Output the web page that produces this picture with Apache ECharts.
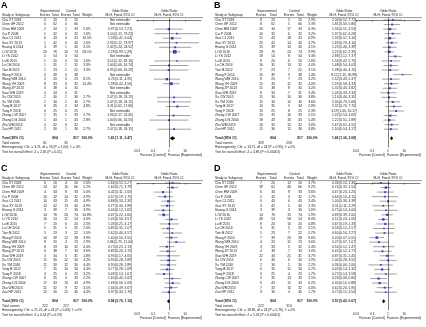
<!DOCTYPE html>
<html>
<head>
<meta charset="utf-8">
<script src="https://cdn.jsdelivr.net/npm/echarts@6/dist/echarts.min.js"></script>
<style>
  html, body { margin: 0; background: #fff; }
  #chart { width: 426px; height: 327px; }
</style>
</head>
<body>
<div id="chart"></div>
<script>
const studies = ['Cha XT 2018', 'Chen GF 2012', 'Chen HM 2009', 'Cui P 2008', 'Guo CJ 2011', 'Guo XY 2013',
  'Huang G 2014', 'Li W 2016', 'Li YS 2012', 'Lu B 2015', 'Lu CH 2014', 'Tian B 2012', 'Wang F 2014',
  'Wang WM 2010', 'Wang YH 2009', 'Wang ZP 2013', 'Xiao WH 2019', 'Xu CW 2015', 'Xu YM 2016',
  'Yang B 2017', 'Yang F 2018', 'Zhang CW 2007', 'Zhang DG 2004', 'Zhu WM 2013', 'Zou HP 2012']
const expTotals = [20, 62, 34, 32, 43, 42, 39, 76, 54, 20, 31, 23, 39, 20, 33, 38, 34, 30, 30, 35, 25, 35, 43, 32, 30]
const ctlTotals = [20, 66, 33, 32, 43, 40, 30, 74, 54, 20, 31, 22, 38, 23, 32, 34, 31, 30, 30, 34, 25, 33, 43, 32, 30]
const axisTicks = [0.01, 0.1, 1, 10, 100]

// A
const aExpEvents = [0, 0, 2, 1, 6, 1, 3, 20, 0, 1, 1, 1, 0, 2, 8, 0, 0, 2, 2, 6, 0, 2, 1, 0, 2]
const aCtlEvents = [0, 0, 2, 0, 4, 0, 1, 10, 0, 0, 1, 1, 0, 3, 6, 0, 0, 1, 1, 2, 0, 1, 1, 0, 1]
const aWeight = [null, null, 5.6, 1.6, 10.5, 1.6, 3.5, 28.1, null, 1.6, 3.3, 3.3, null, 8.1, 14.4, null, null, 2.7, 2.7, 4.8, null, 2.7, 2.8, null, 2.7]
const aOR = [null, null, 0.97, 3.10, 1.58, 2.93, 2.42, 2.29, null, 3.15, 1.00, 0.95, null, 0.74, 1.39, null, null, 2.07, 2.07, 3.31, null, 1.94, 1.00, null, 2.07]
const aLow = [null, null, 0.13, 0.12, 0.41, 0.12, 0.24, 0.99, null, 0.12, 0.06, 0.06, null, 0.11, 0.42, null, null, 0.18, 0.18, 0.62, null, 0.17, 0.06, null, 0.18]
const aHigh = [null, null, 7.21, 79.23, 6.04, 73.97, 24.52, 5.29, null, 82.16, 16.74, 16.29, null, 4.95, 4.56, null, null, 24.15, 24.15, 17.66, null, 22.45, 16.53, null, 24.15]
const aTotal = [1.65, 1.11, 2.47]
const aFooter = ['61', '35', 'Heterogeneity: Chi\u00b2 = 3.71, df = 16 (P = 1.00); I\u00b2 = 0%', 'Test for overall effect: Z = 2.46 (P = 0.01)']

// B
const bExpEvents = [8, 8, 20, 10, 21, 20, 15, 28, 18, 8, 16, 9, 16, 8, 15, 11, 8, 11, 15, 10, 15, 20, 18, 16, 15]
const bCtlEvents = [5, 5, 17, 6, 18, 14, 10, 24, 8, 6, 13, 7, 3, 7, 11, 8, 7, 10, 10, 5, 8, 16, 16, 12, 12]
const bWeight = [2.9, 3.3, 6.3, 3.2, 6.9, 4.7, 4.1, 9.9, 3.3, 2.6, 4.0, 3.1, 1.4, 3.2, 4.0, 3.2, 3.4, 3.8, 3.6, 2.8, 2.3, 5.1, 5.4, 3.6, 3.8]
const bOR = [2.00, 1.81, 1.34, 1.97, 1.33, 1.69, 1.25, 1.22, 2.88, 1.56, 1.48, 1.38, 8.12, 1.52, 1.59, 1.32, 1.05, 1.16, 2.00, 2.32, 3.19, 1.42, 1.22, 1.67, 1.50]
const bLow = [0.52, 0.56, 0.51, 0.62, 0.57, 0.70, 0.46, 0.62, 1.12, 0.42, 0.54, 0.40, 2.13, 0.43, 0.58, 0.46, 0.33, 0.40, 0.70, 0.70, 1.00, 0.54, 0.51, 0.61, 0.54]
const bHigh = [7.72, 5.86, 3.53, 6.28, 3.10, 4.10, 3.39, 2.39, 7.37, 5.76, 4.03, 4.70, 30.98, 5.37, 4.33, 3.82, 3.34, 3.35, 5.68, 7.70, 10.17, 3.69, 2.89, 4.55, 4.17]
const bTotal = [1.68, 1.36, 2.08]
const bFooter = ['359', '258', 'Heterogeneity: Chi\u00b2 = 13.71, df = 24 (P = 0.95); I\u00b2 = 0%', 'Test for overall effect: Z = 4.86 (P < 0.00001)']

// C
const cExpEvents = [6, 14, 4, 10, 10, 12, 3, 14, 16, 7, 5, 5, 14, 8, 6, 6, 3, 11, 11, 7, 4, 6, 17, 11, 12]
const cCtlEvents = [4, 10, 8, 14, 11, 13, 7, 20, 12, 6, 5, 3, 12, 4, 10, 7, 3, 12, 12, 10, 6, 4, 13, 9, 12]
const cWeight = [2.6, 5.2, 5.0, 4.9, 4.9, 4.9, 3.9, 10.8, 4.0, 2.5, 2.6, 1.5, 3.9, 2.9, 4.4, 3.6, 1.8, 4.2, 4.4, 4.4, 3.2, 2.2, 4.9, 3.5, 4.4]
const cOR = [1.66, 1.64, 0.42, 0.57, 0.88, 0.77, 0.44, 0.47, 1.43, 1.03, 0.85, 1.62, 1.40, 2.86, 0.73, 0.83, 0.90, 0.90, 0.90, 0.77, 0.49, 1.60, 1.69, 1.34, 0.97]
const cLow = [0.55, 0.71, 0.11, 0.19, 0.33, 0.30, 0.12, 0.22, 0.56, 0.25, 0.35, 0.40, 0.56, 0.75, 0.25, 0.26, 0.17, 0.28, 0.28, 0.28, 0.14, 0.46, 0.56, 0.49, 0.34]
const cHigh = [5.27, 3.79, 1.63, 1.75, 2.35, 1.98, 1.65, 1.00, 3.57, 4.17, 2.07, 6.57, 3.55, 11.00, 2.13, 2.70, 4.65, 2.89, 2.89, 2.09, 1.67, 5.62, 5.09, 3.67, 2.76]
const cTotal = [0.94, 0.76, 1.16]
const cFooter = ['222', '227', 'Heterogeneity: Chi\u00b2 = 21.21, df = 24 (P = 0.63); I\u00b2 = 0%', 'Test for overall effect: Z = 0.54 (P = 0.59)']

// D
const dExpEvents = [7, 39, 6, 2, 6, 3, 3, 14, 48, 8, 3, 5, 7, 4, 3, 4, 22, 6, 2, 6, 3, 5, 6, 7, 3]
const dCtlEvents = [12, 46, 8, 3, 6, 5, 3, 15, 58, 10, 5, 7, 20, 11, 5, 7, 21, 6, 5, 11, 4, 13, 15, 10, 4]
const dWeight = [3.7, 9.2, 3.6, 1.7, 3.4, 2.3, 1.6, 5.9, 8.0, 4.8, 2.1, 2.7, 9.6, 3.6, 2.4, 3.0, 3.7, 1.9, 2.2, 5.7, 1.7, 5.5, 6.2, 4.0, 1.7]
const dOR = [0.36, 0.74, 0.67, 0.64, 1.00, 0.51, 0.75, 0.89, 0.51, 0.67, 0.56, 0.60, 0.20, 0.27, 0.54, 0.45, 0.87, 1.00, 0.36, 0.43, 0.72, 0.26, 0.30, 0.62, 0.72]
const dLow = [0.10, 0.35, 0.20, 0.10, 0.30, 0.11, 0.14, 0.39, 0.24, 0.19, 0.12, 0.16, 0.07, 0.07, 0.12, 0.12, 0.31, 0.28, 0.06, 0.14, 0.14, 0.08, 0.10, 0.20, 0.15]
const dHigh = [1.30, 1.54, 2.20, 4.15, 3.39, 2.29, 4.00, 2.00, 1.06, 2.33, 2.57, 2.27, 0.55, 1.07, 2.47, 1.71, 2.45, 3.55, 2.00, 1.35, 3.58, 0.84, 0.88, 1.90, 3.54]
const dTotal = [0.53, 0.42, 0.67]
const dFooter = ['222', '310', 'Heterogeneity: Chi\u00b2 = 18.85, df = 24 (P = 0.76); I\u00b2 = 0%', 'Test for overall effect: Z = 5.33 (P < 0.00001)']

const rowGap = 4.55
const lastSlot = 28
const totalRow = 26
const fs = 3.3
const font = 'Liberation Sans'
const ink = '#1a1a1a'

const leftCols = { study: 2, expE: 45, expT: 55, ctlE: 66, ctlT: 76, weight: 87, or: 120 }
const rightCols = { study: 215, expE: 261, expT: 273, ctlE: 289, ctlT: 300, weight: 312, or: 344 }

const panels = [
  { letter: 'A', lx: 1, ly: 4, row0: 20, cols: leftCols, plot: [137, 201],
    expE: aExpEvents, ctlE: aCtlEvents, w: aWeight, or: aOR, lo: aLow, hi: aHigh, total: aTotal, footer: aFooter },
  { letter: 'B', lx: 214, ly: 4, row0: 20, cols: rightCols, plot: [356, 420],
    expE: bExpEvents, ctlE: bCtlEvents, w: bWeight, or: bOR, lo: bLow, hi: bHigh, total: bTotal, footer: bFooter },
  { letter: 'C', lx: 1, ly: 167, row0: 183, cols: leftCols, plot: [137, 201],
    expE: cExpEvents, ctlE: cCtlEvents, w: cWeight, or: cOR, lo: cLow, hi: cHigh, total: cTotal, footer: cFooter },
  { letter: 'D', lx: 214, ly: 167, row0: 183, cols: rightCols, plot: [356, 420],
    expE: dExpEvents, ctlE: dCtlEvents, w: dWeight, or: dOR, lo: dLow, hi: dHigh, total: dTotal, footer: dFooter }
]

const fmtCI = (o, l, h) => o.toFixed(2) + ' [' + l.toFixed(2) + ', ' + h.toFixed(2) + ']'

function txt(x, y, s, align, bold) {
  return {
    type: 'text',
    style: { text: s, x: x, y: y, fill: ink, fontSize: fs, fontFamily: font,
      fontWeight: bold ? 'bold' : 'normal', align: align || 'center', verticalAlign: 'middle' }
  }
}

function tableRenderer(p) {
  const c = p.cols
  const mid = (p.plot[0] + p.plot[1]) / 2
  return function (params, api) {
    const i = params.dataIndex
    const y = api.coord([1, api.value(1)])[1]
    const kids = []
    if (i < studies.length) {
      kids.push(txt(c.study, y, studies[i], 'left'))
      kids.push(txt(c.expE, y, String(p.expE[i])))
      kids.push(txt(c.expT, y, String(expTotals[i])))
      kids.push(txt(c.ctlE, y, String(p.ctlE[i])))
      kids.push(txt(c.ctlT, y, String(ctlTotals[i])))
      if (p.or[i] == null) {
        kids.push(txt(c.or, y, 'Not estimable'))
      } else {
        kids.push(txt(c.weight, y, p.w[i].toFixed(1) + '%'))
        kids.push(txt(c.or, y, fmtCI(p.or[i], p.lo[i], p.hi[i])))
      }
      if (i === 0) {
        const h1 = y - 2 * rowGap, h2 = y - rowGap
        kids.push(txt((c.expE + c.expT) / 2, h1, 'Experimental'))
        kids.push(txt((c.ctlE + c.ctlT) / 2, h1, 'Control'))
        kids.push(txt(c.or, h1, 'Odds Ratio'))
        kids.push(txt(mid, h1, 'Odds Ratio'))
        kids.push(txt(c.study, h2, 'Study or Subgroup', 'left'))
        kids.push(txt(c.expE, h2, 'Events'))
        kids.push(txt(c.expT, h2, 'Total'))
        kids.push(txt(c.ctlE, h2, 'Events'))
        kids.push(txt(c.ctlT, h2, 'Total'))
        kids.push(txt(c.weight, h2, 'Weight'))
        kids.push(txt(c.or, h2, 'M-H, Fixed, 95% CI'))
        kids.push(txt(mid, h2, 'M-H, Fixed, 95% CI'))
        kids.push({ type: 'line', shape: { x1: c.study - 1, y1: y - 2.4, x2: p.plot[1] + 2, y2: y - 2.4 },
          style: { stroke: '#000', lineWidth: 0.4 } })
      }
    } else {
      kids.push(txt(c.study, y, 'Total (95% CI)', 'left', true))
      kids.push(txt(c.expT, y, '804', 'center', true))
      kids.push(txt(c.ctlT, y, '817', 'center', true))
      kids.push(txt(c.weight, y, '100.0%', 'center', true))
      kids.push(txt(c.or, y, fmtCI(p.total[0], p.total[1], p.total[2]), 'center', true))
      kids.push(txt(c.study, y + rowGap, 'Total events', 'left'))
      kids.push(txt(c.expE, y + rowGap, p.footer[0]))
      kids.push(txt(c.ctlE, y + rowGap, p.footer[1]))
      kids.push(txt(c.study, y + 2 * rowGap, p.footer[2], 'left'))
      kids.push(txt(c.study, y + 3 * rowGap, p.footer[3], 'left'))
    }
    return { type: 'group', children: kids }
  }
}

function forestRenderer(params, api) {
  const row = api.value(3)
  const a = api.coord([api.value(0), row])
  const b = api.coord([api.value(1), row])
  const m = api.coord([api.value(2), row])
  const s = 1 + Math.sqrt(api.value(4)) * 0.5
  return {
    type: 'group',
    children: [
      { type: 'line', shape: { x1: a[0], y1: a[1], x2: b[0], y2: b[1] }, style: { stroke: '#444', lineWidth: 0.5 } },
      { type: 'rect', shape: { x: m[0] - s / 2, y: m[1] - s / 2, width: s, height: s }, style: { fill: '#3447c4' } }
    ]
  }
}

function diamondRenderer(params, api) {
  const row = api.value(3)
  const a = api.coord([api.value(0), row])
  const b = api.coord([api.value(1), row])
  const m = api.coord([api.value(2), row])
  return {
    type: 'polygon',
    shape: { points: [[a[0], m[1]], [m[0], m[1] - 2], [b[0], m[1]], [m[0], m[1] + 2]] },
    style: { fill: '#000' }
  }
}

const grids = [], xAxes = [], yAxes = [], series = []
panels.forEach((p, k) => {
  grids.push({ left: p.plot[0], width: p.plot[1] - p.plot[0], top: p.row0 - 0.5 * rowGap, height: (lastSlot + 0.5) * rowGap })
  xAxes.push({
    type: 'log', logBase: 10, min: 0.01, max: 100, gridIndex: k,
    axisLine: { lineStyle: { color: '#000', width: 0.5 } },
    axisTick: { length: 1.5, lineStyle: { color: '#000', width: 0.5 } },
    splitLine: { show: false },
    axisLabel: {
      margin: 1.2, color: ink, fontFamily: font,
      formatter: v => {
        const t = axisTicks.find(u => Math.abs(Math.log10(u) - Math.log10(v)) < 1e-6)
        const fav = t === 0.1 ? 'Favours [Control]' : t === 10 ? 'Favours [Experimental]' : ' '
        return '{n|' + String(t) + '}\n{f|' + fav + '}'
      },
      rich: { n: { fontSize: fs, lineHeight: 4.2, fontFamily: font }, f: { fontSize: fs, lineHeight: 4.2, fontFamily: font } }
    }
  })
  yAxes.push({ type: 'value', min: -0.5, max: lastSlot, inverse: true, show: false, gridIndex: k, splitLine: { show: false } })

  const rows = studies.map((s, i) => [1, i])
  rows.push([1, totalRow])
  series.push({ type: 'custom', xAxisIndex: k, yAxisIndex: k, data: rows, renderItem: tableRenderer(p), encode: { x: 0, y: 1 }, silent: true })

  const marks = []
  p.or.forEach((o, i) => { if (o != null) marks.push([p.lo[i], p.hi[i], o, i, p.w[i]]) })
  series.push({
    type: 'custom', xAxisIndex: k, yAxisIndex: k, data: marks, renderItem: forestRenderer,
    encode: { x: [0, 1, 2], y: 3 }, silent: true,
    markLine: { silent: true, symbol: 'none', label: { show: false },
      lineStyle: { color: '#000', width: 0.5, type: 'solid' }, data: [{ xAxis: 1 }] }
  })
  series.push({
    type: 'custom', xAxisIndex: k, yAxisIndex: k, data: [[p.total[1], p.total[2], p.total[0], totalRow]],
    renderItem: diamondRenderer, encode: { x: [0, 1, 2], y: 3 }, silent: true
  })
})

const chart = echarts.init(document.getElementById('chart'))
chart.setOption({
  animation: false,
  textStyle: { fontFamily: font },
  grid: grids,
  xAxis: xAxes,
  yAxis: yAxes,
  graphic: panels.map(p => ({
    type: 'text', left: p.lx, top: p.ly - 3,
    style: { text: p.letter, fontSize: 9, fontWeight: 'bold', fontFamily: font, fill: '#000' }
  })),
  series: series
})
</script>
</body>
</html>
